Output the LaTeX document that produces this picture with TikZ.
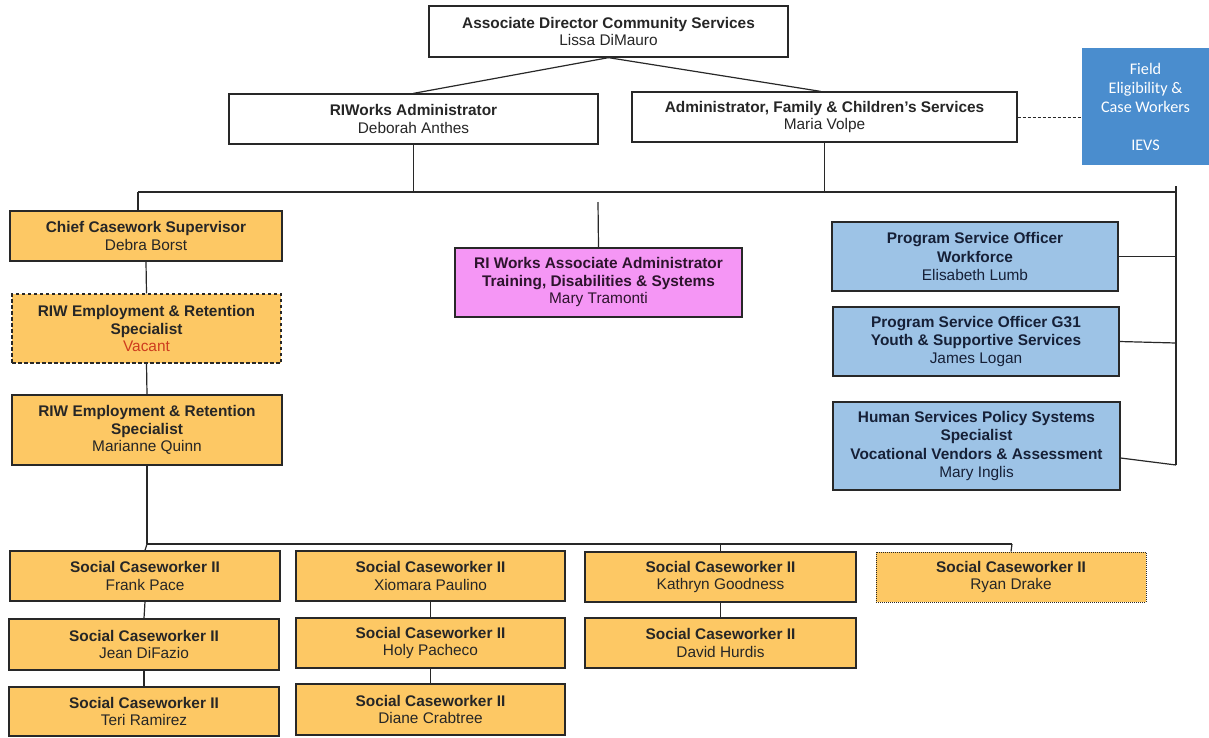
\documentclass[tikz,border=0pt]{standalone}
\usepackage{fontspec}
\setmainfont{Liberation Sans}
\newfontfamily\calib{Carlito}
\definecolor{orng}{RGB}{253,200,100}
\definecolor{lblue}{RGB}{157,195,230}
\definecolor{dblue}{RGB}{74,141,206}
\definecolor{pnk}{RGB}{245,150,245}
\definecolor{ink}{RGB}{38,38,38}
\definecolor{navyink}{RGB}{22,32,55}
\definecolor{edgec}{RGB}{40,40,40}
\definecolor{vacred}{RGB}{205,60,30}
\tikzset{
  base/.style={draw=edgec, line width=1.3pt, inner sep=0pt, align=center, text=ink,
    font=\fontsize{15.4}{17.5}\selectfont},
  wbox/.style={base, fill=white},
  obox/.style={base, fill=orng},
  bbox/.style={base, fill=lblue, text=navyink, font=\fontsize{15.4}{18.2}\selectfont},
  pbox/.style={base, fill=pnk, text={rgb,255:red,45;green,20;blue,45}},
  ievsbox/.style={fill=dblue, inner sep=0pt, align=center, text=white,
    font=\calib\fontsize{16.2}{19}\selectfont},
  link/.style={draw=edgec, line width=1.2pt},
  sz/.style 2 args={minimum width=#1pt, minimum height=#2pt},
}
\begin{document}
\begin{tikzpicture}[x=1pt,y=-1pt]
\useasboundingbox (0,0) rectangle (1209,737);
\fill[white] (0,0) rectangle (1209,737);

% top level
\node[wbox, sz={359}{51}] (dir) at (608.5,31.5) {\textbf{Associate Director Community Services}\\Lissa DiMauro};
\node[wbox, sz={369}{50}] (riw) at (413.5,119) {\textbf{RIWorks Administrator}\\Deborah Anthes};
\node[wbox, sz={385}{50}] (afc) at (824.5,117) {\textbf{Administrator, Family \& Children's Services}\\Maria Volpe};
\node[ievsbox, sz={127}{117}] (ievs) at (1145.5,106.5) {Field\\Eligibility \&\\Case Workers\\[19pt]IEVS};

% second level
\node[obox, sz={272}{50}] (chief) at (146,236) {\textbf{Chief Casework Supervisor}\\Debra Borst};
\node[obox, dashed, dash pattern=on 3.5pt off 2.5pt, sz={269}{69}] (vac) at (146.5,328.5) {\textbf{RIW Employment \& Retention}\\\textbf{Specialist}\\\textcolor{vacred}{Vacant}};
\node[obox, sz={270}{70}] (mq) at (147,430) {\textbf{RIW Employment \& Retention}\\\textbf{Specialist}\\Marianne Quinn};
\node[pbox, sz={287}{69}] (pink) at (598.5,282.5) {\textbf{RI Works Associate Administrator}\\\textbf{Training, Disabilities \& Systems}\\Mary Tramonti};
\node[bbox, sz={286}{69}] (pso1) at (975,256.5) {\textbf{Program Service Officer}\\\textbf{Workforce}\\Elisabeth Lumb};
\node[bbox, sz={286}{69}] (pso2) at (976,341.5) {\textbf{Program Service Officer G31}\\\textbf{Youth \& Supportive Services}\\James Logan};
\node[bbox, sz={287}{88}] (hsp) at (976.5,446) {\textbf{Human Services Policy Systems}\\\textbf{Specialist}\\\textbf{Vocational Vendors \& Assessment}\\Mary Inglis};

% caseworkers
\node[obox, sz={270}{50}] (frank) at (145,576) {\textbf{Social Caseworker II}\\Frank Pace};
\node[obox, sz={270}{51}] (jean) at (144,644.5) {\textbf{Social Caseworker II}\\Jean DiFazio};
\node[obox, sz={270}{49}] (teri) at (144,711.5) {\textbf{Social Caseworker II}\\Teri Ramirez};
\node[obox, sz={269}{50}] (xio) at (430.5,576) {\textbf{Social Caseworker II}\\Xiomara Paulino};
\node[obox, sz={269}{50}] (holy) at (430.5,643) {\textbf{Social Caseworker II}\\Holy Pacheco};
\node[obox, sz={269}{51}] (diane) at (430.5,709.5) {\textbf{Social Caseworker II}\\Diane Crabtree};
\node[obox, sz={271}{50}] (kath) at (720.5,577) {\textbf{Social Caseworker II}\\Kathryn Goodness};
\node[obox, sz={271}{50}] (david) at (720.5,643) {\textbf{Social Caseworker II}\\David Hurdis};
\node[obox, draw=edgec, line width=1pt, densely dotted, sz={270}{50}] (ryan) at (1011,577) {\textbf{Social Caseworker II}\\Ryan Drake};

% bus coordinates
\coordinate (busL) at (138,192);
\coordinate (busR) at (1176,192);
\coordinate (busTop) at (1176,186);
\coordinate (busBot) at (1176,465);
\coordinate (pinkTop) at (598,202);
\coordinate (cwL) at (147,544);
\coordinate (cwR) at (1012,544);

% connectors
\draw[link] (dir.south) -- (riw.north);
\draw[link] (dir.south) -- ([xshift=-4pt]afc.north);
\draw[link] (riw.south) -- (riw.south |- busL);
\draw[link] (afc.south) -- (afc.south |- busL);
\draw[link, densely dashed, line width=1pt] (afc.east) -- (afc.east -| ievs.west);
\draw[link] (busL) -- (busR);
\draw[link] (busTop) -- (busBot);
\draw[link] (busL) -- (busL |- chief.north);
\draw[link] (pinkTop) -- (pink.north);
\draw[link] (pso1.east) -- (pso1.east -| busR);
\draw[link] (pso2.east) -- ([yshift=-1.5pt]pso2.east -| busR);
\draw[link] ([yshift=-12pt]hsp.east) -- (busBot);
\draw[link] (chief.south) -- (vac.north);
\draw[link] (vac.south) -- (mq.north);
\draw[link] (mq.south) -- (cwL);
\draw[link] (cwL) -- (frank.north);
\draw[link] (cwL) -- (cwR);
\draw[link] (cwR) -- (ryan.north);
\draw[link] (kath.north |- cwL) -- (kath.north);
\draw[link] (frank.south) -- (jean.north);
\draw[link] (jean.south) -- (teri.north);
\draw[link] (xio.south) -- (holy.north);
\draw[link] (holy.south) -- (diane.north);
\draw[link] (kath.south) -- (david.north);
\end{tikzpicture}
\end{document}
